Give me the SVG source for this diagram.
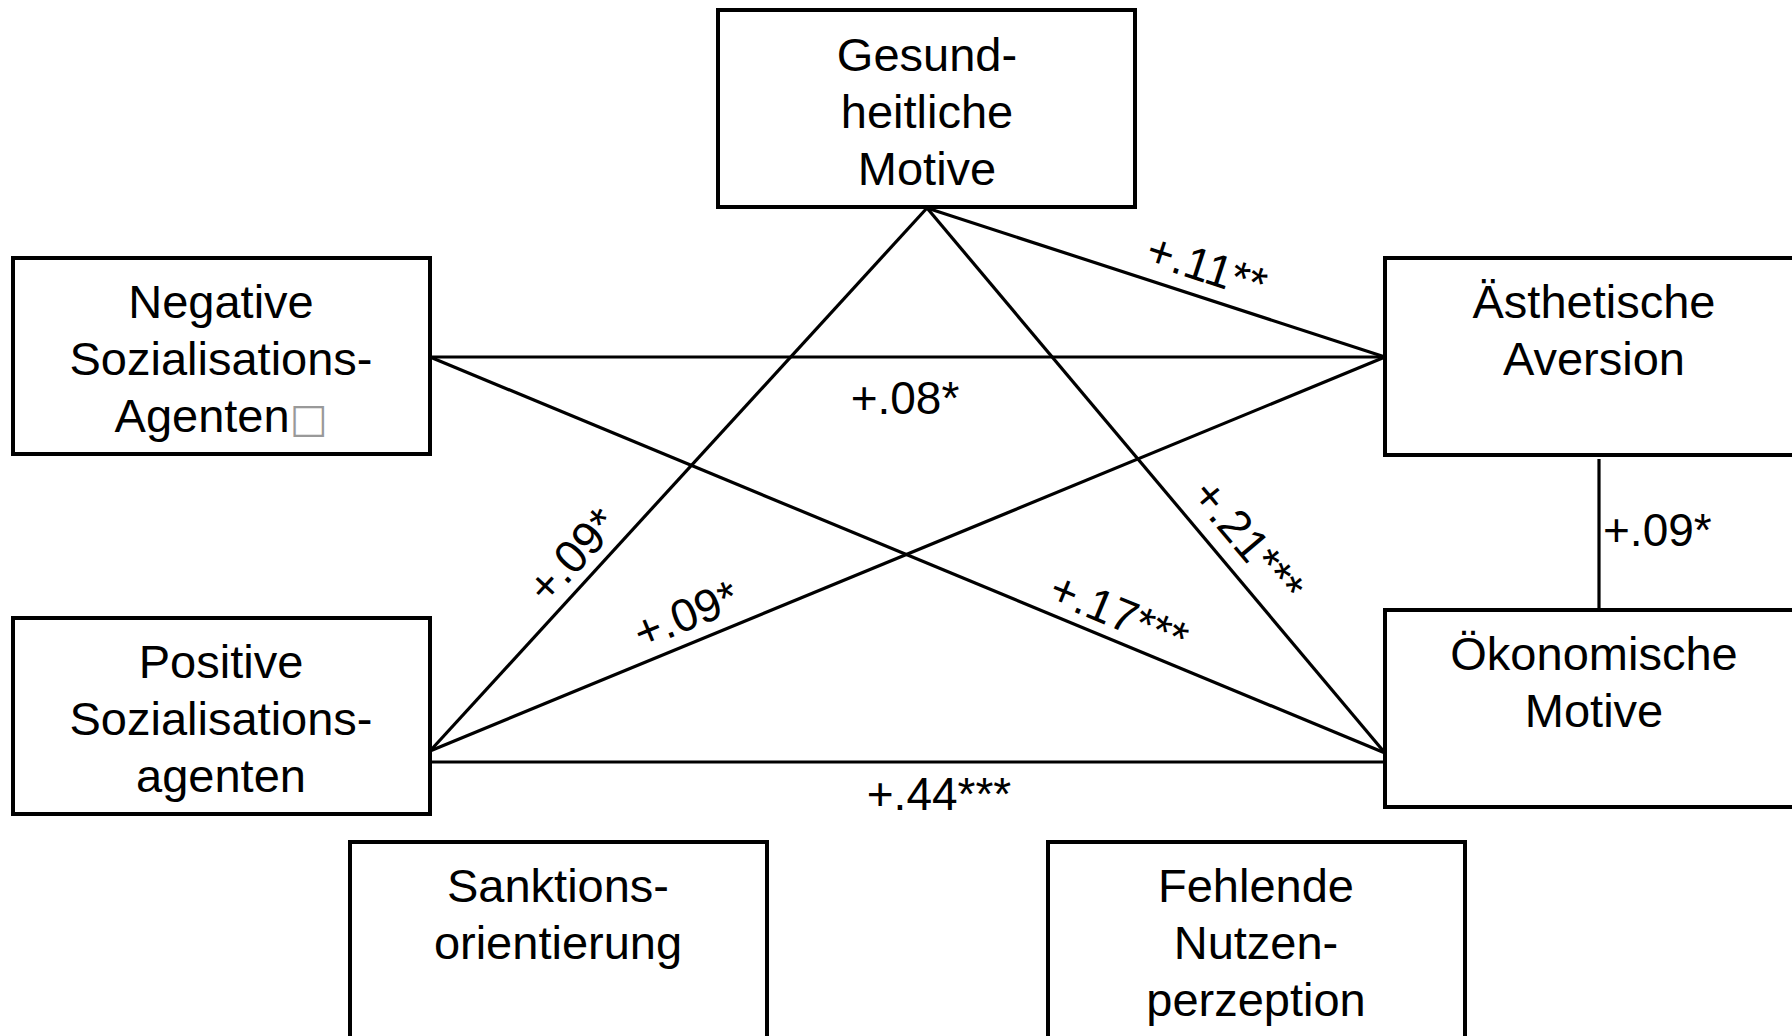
<svg xmlns="http://www.w3.org/2000/svg" width="1792" height="1036" viewBox="0 0 1792 1036">
<style>
.box{fill:#fff;stroke:#000;stroke-width:4}
.lbl{font-family:"Liberation Sans",Arial,sans-serif;font-size:47px;fill:#000;text-anchor:middle}
.num{font-family:"Liberation Sans",Arial,sans-serif;font-size:46px;fill:#000;text-anchor:middle}
.con line{stroke:#000;stroke-width:3.2;fill:none}
</style>
<rect width="1792" height="1036" fill="#fff"/>
<g id="connectors" class="con">
<line x1="927" y1="208" x2="430" y2="751"/>
<line x1="927" y1="208" x2="1385" y2="357"/>
<line x1="927" y1="208" x2="1385" y2="753"/>
<line x1="430" y1="357" x2="1385" y2="357"/>
<line x1="430" y1="357" x2="1385" y2="753"/>
<line x1="430" y1="751" x2="1385" y2="357"/>
<line x1="430" y1="762" x2="1385" y2="762"/>
<line x1="1599" y1="459" x2="1599" y2="610"/>
</g>
<g id="edge-labels">
<text class="num" transform="translate(1202,282) rotate(18)">+.11**</text>
<text class="num" x="905" y="414">+.08*</text>
<text class="num" x="1603" y="546" style="text-anchor:start">+.09*</text>
<text class="num" transform="translate(584,566) rotate(-47.4)">+.09*</text>
<text class="num" transform="translate(692,629) rotate(-22.3)">+.09*</text>
<text class="num" transform="translate(1236,551) rotate(49.9)">+.21***</text>
<text class="num" transform="translate(1113,628) rotate(22.4)">+.17***</text>
<text class="num" x="939" y="810">+.44***</text>
</g>
<g id="gesundheitliche-motive">
<rect class="box" x="718" y="10" width="417" height="197"/>
<text class="lbl" x="927" y="71">Gesund-</text>
<text class="lbl" x="927" y="128">heitliche</text>
<text class="lbl" x="927" y="185">Motive</text>
</g>
<g id="negative-sozialisationsagenten">
<rect class="box" x="13" y="258" width="417" height="196"/>
<text class="lbl" x="221" y="318">Negative</text>
<text class="lbl" x="221" y="375">Sozialisations-</text>
<text class="lbl" x="221" y="432">Agenten<tspan style="font-family:'DejaVu Sans',sans-serif;fill:#999;font-size:40px">□</tspan></text>
</g>
<g id="aesthetische-aversion">
<rect class="box" x="1385" y="258" width="417" height="197"/>
<text class="lbl" x="1594" y="318">Ästhetische</text>
<text class="lbl" x="1594" y="375">Aversion</text>
</g>
<g id="positive-sozialisationsagenten">
<rect class="box" x="13" y="618" width="417" height="196"/>
<text class="lbl" x="221" y="678">Positive</text>
<text class="lbl" x="221" y="735">Sozialisations-</text>
<text class="lbl" x="221" y="792">agenten</text>
</g>
<g id="oekonomische-motive">
<rect class="box" x="1385" y="610" width="417" height="197"/>
<text class="lbl" x="1594" y="670">Ökonomische</text>
<text class="lbl" x="1594" y="727">Motive</text>
</g>
<g id="sanktionsorientierung">
<rect class="box" x="350" y="842" width="417" height="200"/>
<text class="lbl" x="558" y="902">Sanktions-</text>
<text class="lbl" x="558" y="959">orientierung</text>
</g>
<g id="fehlende-nutzenperzeption">
<rect class="box" x="1048" y="842" width="417" height="200"/>
<text class="lbl" x="1256" y="902">Fehlende</text>
<text class="lbl" x="1256" y="959">Nutzen-</text>
<text class="lbl" x="1256" y="1016">perzeption</text>
</g>
</svg>
